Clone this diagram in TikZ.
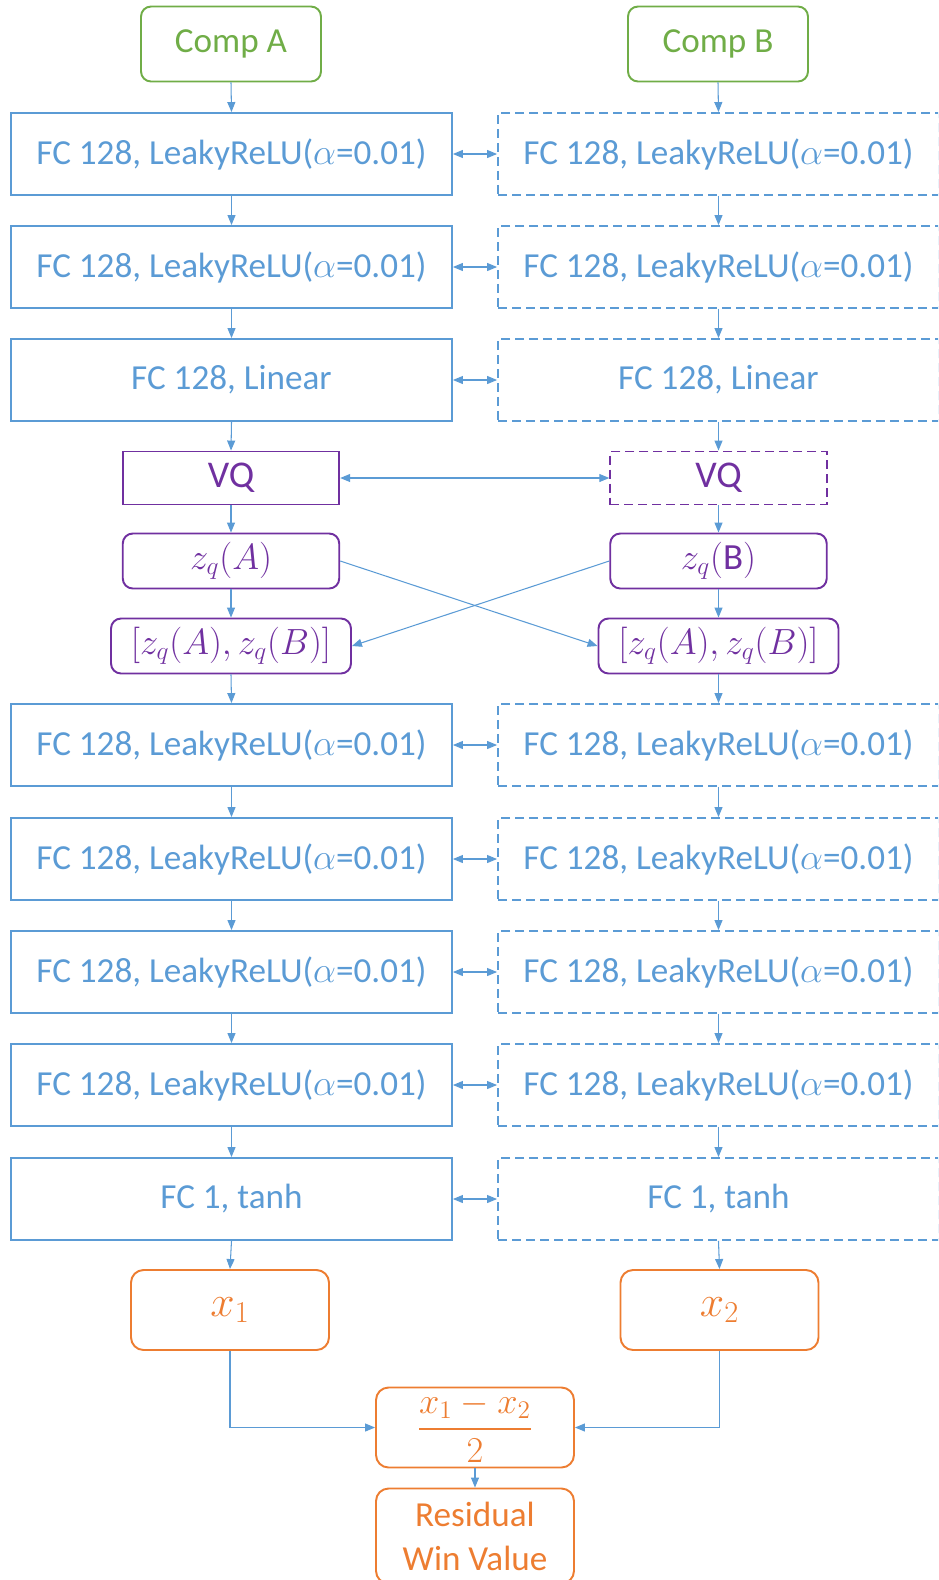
\documentclass[tikz,border=0pt]{standalone}
\usepackage{amsmath}
\usepackage{fontspec}
\setmainfont{Carlito}
\usetikzlibrary{arrows.meta}
\definecolor{netblue}{HTML}{5B9BD5}
\definecolor{compgreen}{HTML}{70AD47}
\definecolor{vqpurple}{HTML}{7030A0}
\definecolor{outorange}{HTML}{ED7D31}
\newcommand{\leakytext}{FC 128, LeakyReLU($\alpha$=0.01)}

\begin{document}
\begin{tikzpicture}[x=0.02cm, y=-0.02cm,
    every node/.style={font=\fontsize{20}{24}\selectfont, inner sep=0pt},
    mathfont/.style={font=\fontsize{21}{25}\selectfont},
    fcbox/.style={draw=netblue, line width=1.1pt, text=netblue, minimum width=8.82cm, minimum height=1.64cm},
    fcshared/.style={fcbox, dash pattern=on 0.18cm off 0.1cm},
    compbox/.style={draw=compgreen, line width=1.1pt, text=compgreen, rounded corners=0.2cm, minimum width=3.6cm, minimum height=1.5cm},
    vqbox/.style={draw=vqpurple, line width=1.1pt, text=vqpurple, minimum width=4.33cm, minimum height=1.06cm},
    zqbox/.style={vqbox, mathfont, rounded corners=0.2cm, minimum height=1.1cm},
    outbox/.style={draw=outorange, line width=1.1pt, text=outorange, rounded corners=0.25cm, minimum width=3.96cm, minimum height=1.6cm},
    flow/.style={draw=netblue, line width=0.6pt, -{Triangle[length=0.2cm, width=0.16cm]}},
    shared/.style={flow, {Triangle[length=0.2cm, width=0.16cm]}-{Triangle[length=0.2cm, width=0.16cm]}}]

    \useasboundingbox (0,0) rectangle (938,1580); % page size of the reference
    \clip (0,0) rectangle (938,1580);

    % Inputs
    \node[compbox] (compA) at (231,44) {Comp A};
    \node[compbox] (compB) at (718,44) {Comp B};

    % Encoders, left one and its shared copy
    \node[fcbox] (encA1) at (231.5,154) {\leakytext};
    \node[fcbox] (encA2) at (231.5,267) {\leakytext};
    \node[fcbox] (encA3) at (231.5,380) {FC 128, Linear};
    \node[fcshared] (encB1) at (718.5,154) {\leakytext};
    \node[fcshared] (encB2) at (718.5,267) {\leakytext};
    \node[fcshared] (encB3) at (718.5,380) {FC 128, Linear};

    % Quantisation
    \node[vqbox, font=\fontsize{21.5}{25}\selectfont] (vqA) at (231,478) {VQ};
    \node[vqbox, font=\fontsize{21.5}{25}\selectfont, dash pattern=on 0.18cm off 0.1cm] (vqB) at (718.5,478) {VQ};
    \node[zqbox] (zqA) at (231,561) {$z_q(A)$};
    \node[zqbox] (zqB) at (718.5,561) {$z_q(\mathrm{B})$};
    \node[zqbox, minimum width=4.8cm] (catA) at (231,646) {$[z_q(A), z_q(B)]$};
    \node[zqbox, minimum width=4.8cm] (catB) at (718.5,646) {$[z_q(A), z_q(B)]$};

    % Value heads
    \foreach \n/\y in {1/745, 2/859, 3/972, 4/1085} {
        \node[fcbox] (decA\n) at (231.5,\y) {\leakytext};
        \node[fcshared] (decB\n) at (718.5,\y) {\leakytext};
    }
    \node[fcbox] (tanhA) at (231.5,1199) {FC 1, tanh};
    \node[fcshared] (tanhB) at (718.5,1199) {FC 1, tanh};

    % Outputs
    \node[outbox, font=\fontsize{23}{27}\selectfont] (xA) at (230,1310) {$x_1$};
    \node[outbox, font=\fontsize{23}{27}\selectfont] (xB) at (719.5,1310) {$x_2$};
    \node[outbox, font=\fontsize{22}{26}\selectfont] (diff) at (475,1427.5) {$\dfrac{x_1 - x_2}{2}$};
    \node[outbox, minimum height=1.9cm, align=center] (res) at (475,1536) {Residual\\[1pt]Win Value};

    % Connectors
    \foreach \a/\b in {compA/encA1, encA1/encA2, encA2/encA3, encA3/vqA, vqA/zqA, zqA/catA,
        catA/decA1, decA1/decA2, decA2/decA3, decA3/decA4, decA4/tanhA, tanhA/xA} {
        \draw[flow] (\a.south) -- (\b.north);
    }
    \foreach \a/\b in {compB/encB1, encB1/encB2, encB2/encB3, encB3/vqB, vqB/zqB, zqB/catB,
        catB/decB1, decB1/decB2, decB2/decB3, decB3/decB4, decB4/tanhB, tanhB/xB} {
        \draw[flow] (\a.south) -- (\b.north);
    }
    \foreach \a/\b in {encA1/encB1, encA2/encB2, encA3/encB3, vqA/vqB,
        decA1/decB1, decA2/decB2, decA3/decB3, decA4/decB4, tanhA/tanhB} {
        \draw[shared] (\a.east) -- (\b.west);
    }
    \draw[flow] (zqA.east) -- (catB.west); % cross over
    \draw[flow] (zqB.west) -- (catA.east);
    \draw[flow] (xA.south) |- (diff.west);
    \draw[flow] (xB.south) |- (diff.east);
    \draw[flow] (diff.south) -- (res.north);
\end{tikzpicture}
\end{document}
